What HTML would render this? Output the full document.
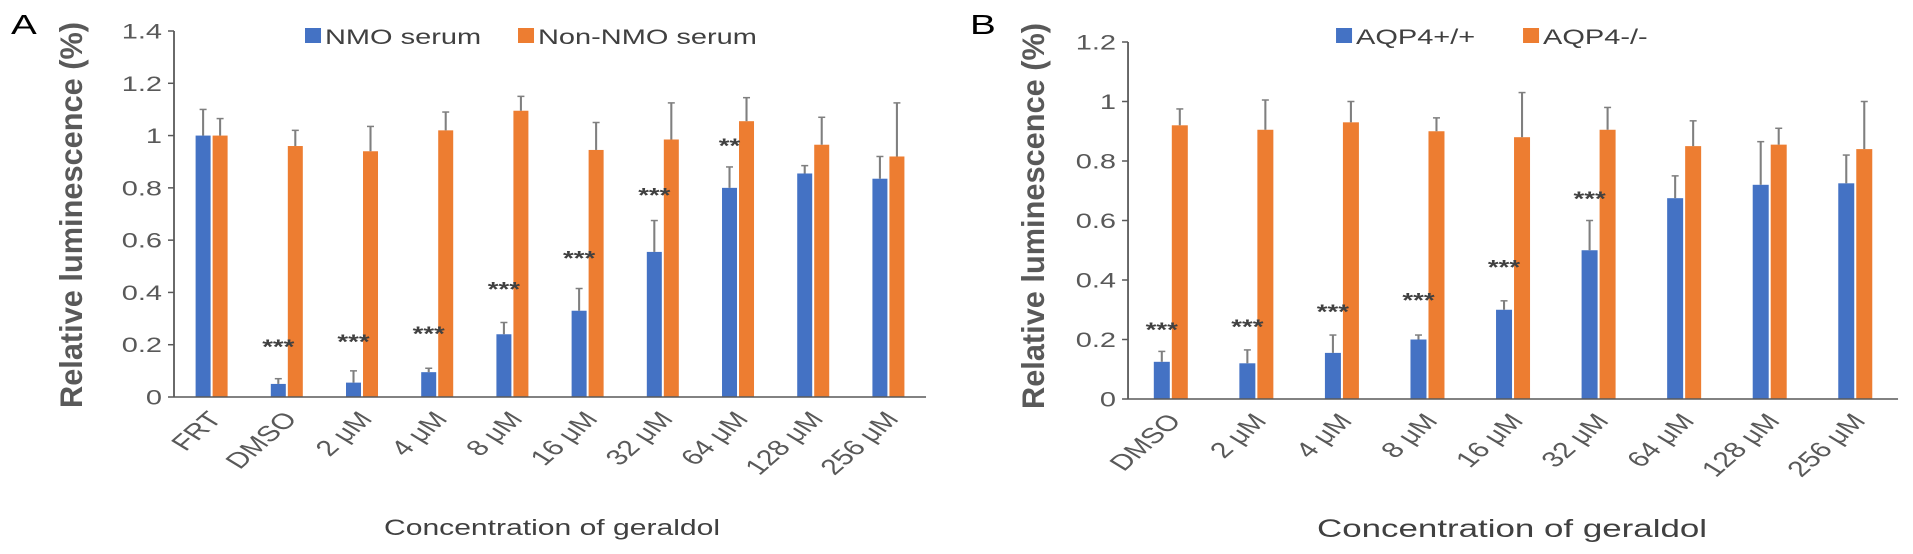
<!DOCTYPE html>
<html><head><meta charset="utf-8"><style>
html,body{margin:0;padding:0;background:#fff;}
svg{display:block;font-family:"Liberation Sans",sans-serif;}
</style></head><body>
<svg id="s" width="1913" height="554" viewBox="0 0 1386.2 554" preserveAspectRatio="none"></svg>
<script>
const catsA=["FRT","DMSO","2 μM","4 μM","8 μM","16 μM","32 μM","64 μM","128 μM","256 μM"];
const blueA=[1.0,0.05,0.055,0.095,0.24,0.33,0.555,0.80,0.855,0.835];
const blueErrA=[1.10,0.07,0.10,0.11,0.285,0.415,0.675,0.88,0.885,0.92];
const orangeA=[1.0,0.96,0.94,1.02,1.095,0.945,0.985,1.055,0.965,0.92];
const orangeErrA=[1.065,1.02,1.035,1.09,1.15,1.05,1.125,1.145,1.07,1.125];
const starsA=["","***","***","***","***","***","***","**","",""];
const starYA=[0,0.2,0.22,0.25,0.42,0.54,0.78,0.97,0,0];
const ticksA=[0,0.2,0.4,0.6,0.8,1,1.2,1.4];
const tickLabelsA=["0","0.2","0.4","0.6","0.8","1","1.2","1.4"];

const catsB=["DMSO","2 μM","4 μM","8 μM","16 μM","32 μM","64 μM","128 μM","256 μM"];
const blueB=[0.125,0.12,0.155,0.2,0.3,0.5,0.675,0.72,0.725];
const blueErrB=[0.16,0.165,0.215,0.215,0.33,0.6,0.75,0.865,0.82];
const orangeB=[0.92,0.905,0.93,0.9,0.88,0.905,0.85,0.855,0.84];
const orangeErrB=[0.975,1.005,1.0,0.945,1.03,0.98,0.935,0.91,1.0];
const starsB=["***","***","***","***","***","***","","",""];
const starYB=[0.24,0.25,0.30,0.34,0.45,0.68,0,0,0];
const ticksB=[0,0.2,0.4,0.6,0.8,1,1.2];
const tickLabelsB=["0","0.2","0.4","0.6","0.8","1","1.2"];

const S=1.38;
const X=r=>r/S;
const NS="http://www.w3.org/2000/svg";
const svg=document.getElementById('s');
function mk(tag,attrs,parent,text){const e=document.createElementNS(NS,tag);for(const k in attrs)e.setAttribute(k,attrs[k]);if(text!==undefined)e.textContent=text;(parent||svg).appendChild(e);return e;}

function chart(o){
  const g=mk('g',{});
  
  
  const y=v=>o.y0-(v/o.ymax)*(o.y0-o.ytop);
  const step=(o.x1-o.x0)/o.cats.length;
  const cx=i=>o.x0+step*(i+0.5);
  const ya=mk('line',{x1:X(o.x0),y1:o.ytop,x2:X(o.x0),y2:o.y0,stroke:'#595959','stroke-width':1.3},g);
  
  
  o.ticks.forEach((t,i)=>{
    mk('line',{x1:X(o.x0-6),y1:y(t),x2:X(o.x0),y2:y(t),stroke:'#595959','stroke-width':1.5},g);
    const tl=mk('text',{x:X(o.x0-12),y:y(t)+7.5,'text-anchor':'end','font-size':21,fill:'#595959'},g,o.tickLabels[i]);
    
    
  });
  o.cats.forEach((c,i)=>{
    const bx=cx(i)-o.bw-1, ox=cx(i)+1;
    const b=mk('rect',{x:X(bx),y:y(o.blue[i]),width:X(o.bw),height:y(0)-y(o.blue[i]),fill:'#4472c4'},g);
    
    
    const r=mk('rect',{x:X(ox),y:y(o.orange[i]),width:X(o.bw),height:y(0)-y(o.orange[i]),fill:'#ed7d31'},g);
    
    
    [[bx,o.blue[i],o.blueErr[i]],[ox,o.orange[i],o.orangeErr[i]]].forEach(([x,v,e])=>{
      const m=x+o.bw/2;
      mk('line',{x1:X(m),y1:y(v),x2:X(m),y2:y(e),stroke:'#7f7f7f','stroke-width':1.5},g);
      mk('line',{x1:X(m-3.5),y1:y(e),x2:X(m+3.5),y2:y(e),stroke:'#7f7f7f','stroke-width':1.5},g);
    });
    if(o.stars[i]){const st=mk('text',{x:X(bx+o.bw/2),y:y(o.starY[i])+9,'text-anchor':'middle','font-size':20,'font-weight':'bold',fill:'#404040'},g,o.stars[i]);
      
      }
    const lx=X(cx(i)-6), ly=o.y0+12;
    const t=mk('text',{x:lx,y:ly,'text-anchor':'end','font-size':22,fill:'#595959',transform:`rotate(-50 ${lx} ${ly})`,dy:'0.75em'},g,c);
    
    
  });
  const xa=mk('line',{x1:X(o.x0),y1:o.y0,x2:X(o.x1),y2:o.y0,stroke:'#595959','stroke-width':1.5},g);
  
  
  const yt=mk('text',{x:0,y:0,'text-anchor':'middle','font-size':23,'font-weight':'bold',fill:'#595959',textLength:386,lengthAdjust:'spacingAndGlyphs',transform:`translate(${X(o.ytX)},${o.ytY}) rotate(-90)`},g,'Relative luminescence (%)');
  
  
  const xt=mk('text',{x:X(o.xtX),y:o.xtY,'text-anchor':'middle','font-size':o.xtSize,fill:'#404040',textLength:X(o.xtW),lengthAdjust:'spacingAndGlyphs'},g,'Concentration of geraldol');
  
  
  o.legend.forEach(([lx,col,txt])=>{
    const sq=mk('rect',{x:X(lx),y:28,width:X(16),height:15,fill:col},g);
    
    
    const lt=mk('text',{x:X(lx+20),y:44,'font-size':21,fill:'#404040'},g,txt);
    
    
  });
  const pl=mk('text',{x:X(o.letterX),y:34,'font-size':28,fill:'#000'},g,o.letter);
  
  
}
chart({name:'chart-a',cats:catsA,blue:blueA,blueErr:blueErrA,orange:orangeA,orangeErr:orangeErrA,stars:starsA,starY:starYA,ticks:ticksA,tickLabels:tickLabelsA,
  x0:174,x1:926,y0:397,ytop:31,ymax:1.4,bw:15,ytX:82,ytY:215,xtX:552,xtY:535,xtW:336,xtSize:22,
  legend:[[305,'#4472c4','NMO serum'],[518,'#ed7d31','Non-NMO serum']],letter:'A',letterX:11});
chart({name:'chart-b',cats:catsB,blue:blueB,blueErr:blueErrB,orange:orangeB,orangeErr:orangeErrB,stars:starsB,starY:starYB,ticks:ticksB,tickLabels:tickLabelsB,
  x0:1128,x1:1898,y0:399,ytop:42,ymax:1.2,bw:16,ytX:1044,ytY:216,xtX:1512,xtY:537,xtW:390,xtSize:25,
  legend:[[1336,'#4472c4','AQP4+/+'],[1523,'#ed7d31','AQP4-/-']],letter:'B',letterX:970});
</script>
</body></html>
